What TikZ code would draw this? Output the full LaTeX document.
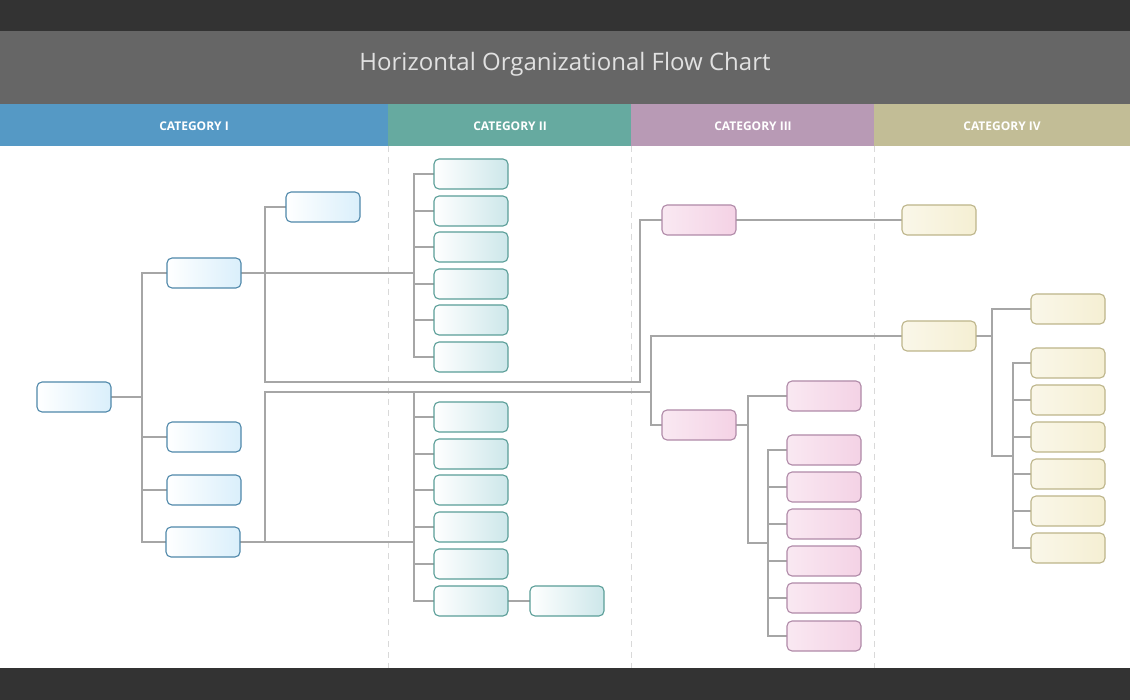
\documentclass[tikz,border=0pt]{standalone}
\usepackage{fontspec}
\setmainfont{Open Sans}
\begin{document}
\begin{tikzpicture}[x=1pt,y=-1pt,
 bx/.style={rounded corners=5pt,minimum width=74pt,minimum height=30pt,line width=1.1pt,inner sep=0pt},
 bl/.style={bx,draw=blue!35!black!60!cyan!70!white,draw=blueb,left color=white,right color=bluef},
 tl/.style={bx,draw=tealb,left color=white,right color=tealf},
 pk/.style={bx,draw=pinkb,left color=white!50!pinkf,right color=pinkf},
 yl/.style={bx,draw=yelb,left color=white!50!yelf,right color=yelf},
 ln/.style={draw=gray!70,line width=1.1pt},
 sep/.style={draw=gray!30,line width=1pt,dash pattern=on 6pt off 5pt},
 cat/.style={text=white,font=\bfseries\fontsize{12}{14}\selectfont}]
\definecolor{blueb}{HTML}{4F88AA}\definecolor{bluef}{HTML}{DAEFFB}
\definecolor{tealb}{HTML}{5A9E98}\definecolor{tealf}{HTML}{CDE7EA}
\definecolor{pinkb}{HTML}{B08AA8}\definecolor{pinkf}{HTML}{F4D2E5}
\definecolor{yelb}{HTML}{BDB58A}\definecolor{yelf}{HTML}{F5EFD3}
\useasboundingbox (0,0) rectangle (1130,700);
\fill[white] (0,0) rectangle (1130,700);
\fill[fill={rgb,255:red,51;green,51;blue,51}] (0,0) rectangle (1130,31);
\fill[fill={rgb,255:red,102;green,102;blue,102}] (0,31) rectangle (1130,104);
\node[text={rgb,255:red,225;green,225;blue,225},font=\fontsize{24}{28}\selectfont] (title) at (565,64) {Horizontal Organizational Flow Chart};
\fill[fill={rgb,255:red,85;green,153;blue,197}] (0,104) rectangle (388,146);
\fill[fill={rgb,255:red,102;green,170;blue,160}] (388,104) rectangle (631,146);
\fill[fill={rgb,255:red,184;green,154;blue,181}] (631,104) rectangle (874,146);
\fill[fill={rgb,255:red,194;green,189;blue,150}] (874,104) rectangle (1130,146);
\node[cat] (c1) at (194,126) {CATEGORY I};
\node[cat] (c2) at (510,126) {CATEGORY II};
\node[cat] (c3) at (753,126) {CATEGORY III};
\node[cat] (c4) at (1002,126) {CATEGORY IV};
\fill[fill={rgb,255:red,51;green,51;blue,51}] (0,668) rectangle (1130,700);
\foreach \x in {388,631,874} \draw[sep] (\x,146) -- (\x,668);
% connectors
\draw[ln] (110,397) -- (142,397);
\draw[ln] (167,273) -| (142,542) -- (167,542);
\draw[ln] (142,437) -- (167,437); \draw[ln] (142,490) -- (167,490);
\draw[ln] (241,273) -- (414,273);
\draw[ln] (286,207) -| (265,382) -| (640,220) -- (662,220);
\draw[ln] (736,220) -- (902,220);
\draw[ln] (434,174) -| (414,357) -- (434,357);
\foreach \y in {211,247,284,320} \draw[ln] (414,\y) -- (434,\y);
\draw[ln] (240,542) -- (414,542);
\draw[ln] (414,542) |- (265,392);
\draw[ln] (265,542) -- (265,392) -| (651,336) -- (902,336);
\draw[ln] (651,392) |- (662,425);
\draw[ln] (434,417) -| (414,601) -- (434,601);
\foreach \y in {454,490,527,564} \draw[ln] (414,\y) -- (434,\y);
\draw[ln] (508,601) -- (530,601);
\draw[ln] (736,425) -- (748,425);
\draw[ln] (787,396) -| (748,543) -- (768,543);
\draw[ln] (787,450) -| (768,636) -- (787,636);
\foreach \y in {487,524,561,598} \draw[ln] (768,\y) -- (787,\y);
\draw[ln] (976,336) -- (992,336);
\draw[ln] (1031,309) -| (992,456) -- (1013,456);
\draw[ln] (1031,363) -| (1013,548) -- (1031,548);
\foreach \y in {400,437,474,511} \draw[ln] (1013,\y) -- (1031,\y);
% boxes
\node[bl] (a) at (74,397) {};
\node[bl] (b1) at (204,273) {};
\node[bl] (b2) at (204,437) {};
\node[bl] (b3) at (204,490) {};
\node[bl] (b4) at (203,542) {};
\node[bl] (b0) at (323,207) {};
\foreach \y [count=\i] in {174,211,247,284,320,357} \node[tl] (t\i) at (471,\y) {};
\foreach \y [count=\i] in {417,454,490,527,564,601} \node[tl] (u\i) at (471,\y) {};
\node[tl] (ux) at (567,601) {};
\node[pk] (p1) at (699,220) {};
\node[pk] (p2) at (699,425) {};
\node[pk] (p3) at (824,396) {};
\foreach \y [count=\i] in {450,487,524,561,598,636} \node[pk] (q\i) at (824,\y) {};
\node[yl] (y1) at (939,220) {};
\node[yl] (y2) at (939,336) {};
\node[yl] (y3) at (1068,309) {};
\foreach \y [count=\i] in {363,400,437,474,511,548} \node[yl] (z\i) at (1068,\y) {};
\end{tikzpicture}
\end{document}
